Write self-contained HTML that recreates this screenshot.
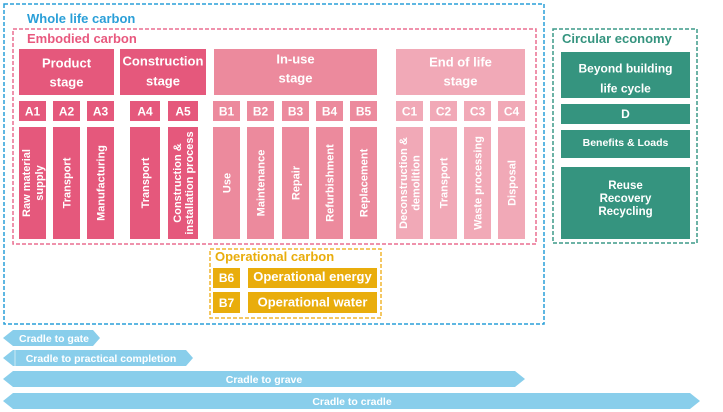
<!DOCTYPE html>
<html><head><meta charset="utf-8"><style>
html,body{margin:0;padding:0;background:#fff;}
svg{display:block;}
text{font-family:"Liberation Sans",Arial,sans-serif;font-weight:bold;}
</style></head><body>
<svg width="723" height="412" viewBox="0 0 723 412" xmlns="http://www.w3.org/2000/svg">
<!-- dashed containers -->
<rect x="4" y="4" width="540" height="320" fill="none" stroke="#2a9fd8" stroke-width="1.5" stroke-dasharray="4 2"/>
<rect x="13" y="29" width="523" height="215" fill="none" stroke="#ea6f90" stroke-width="1.5" stroke-dasharray="4 2"/>
<rect x="553" y="29" width="144" height="214" fill="none" stroke="#3d9a88" stroke-width="1.5" stroke-dasharray="4 2"/>
<rect x="210" y="249" width="171" height="69" fill="#fff" stroke="#f0b630" stroke-width="1.5" stroke-dasharray="4 2"/>

<text x="27" y="23" font-size="13" fill="#2a9fd8">Whole life carbon</text>
<text x="27" y="43" font-size="13" fill="#e8587e">Embodied carbon</text>
<text x="562" y="43" font-size="13" fill="#35947f">Circular economy</text>
<text x="215" y="261" font-size="13" fill="#e9ad0c">Operational carbon</text>

<!-- stage headers -->
<g fill="#e5587c">
<rect x="19" y="49" width="95" height="46"/>
<rect x="120" y="49" width="86" height="46"/>
</g>
<rect x="214" y="49" width="163" height="46" fill="#ec8a9d"/>
<rect x="396" y="49" width="129" height="46" fill="#f1a9b7"/>
<g fill="#fff" font-size="13" text-anchor="middle">
<text x="66.5" y="67.5">Product</text>
<text x="66.5" y="86.5">stage</text>
<text x="163" y="65.5">Construction</text>
<text x="163" y="85.5">stage</text>
<text x="295.5" y="63.5">In-use</text>
<text x="295.5" y="82.5">stage</text>
<text x="460.5" y="66.5">End of life</text>
<text x="460.5" y="85.5">stage</text>
</g>

<!-- code boxes -->
<g fill="#e5587c">
<rect x="19" y="101" width="27" height="20"/>
<rect x="53" y="101" width="27" height="20"/>
<rect x="87" y="101" width="27" height="20"/>
<rect x="130" y="101" width="30" height="20"/>
<rect x="168" y="101" width="30" height="20"/>
<rect x="19" y="127" width="27" height="112"/>
<rect x="53" y="127" width="27" height="112"/>
<rect x="87" y="127" width="27" height="112"/>
<rect x="130" y="127" width="30" height="112"/>
<rect x="168" y="127" width="30" height="112"/>
</g>
<g fill="#ec8a9d">
<rect x="213" y="101" width="27" height="20"/>
<rect x="247" y="101" width="27" height="20"/>
<rect x="282" y="101" width="27" height="20"/>
<rect x="316" y="101" width="27" height="20"/>
<rect x="350" y="101" width="27" height="20"/>
<rect x="213" y="127" width="27" height="112"/>
<rect x="247" y="127" width="27" height="112"/>
<rect x="282" y="127" width="27" height="112"/>
<rect x="316" y="127" width="27" height="112"/>
<rect x="350" y="127" width="27" height="112"/>
</g>
<g fill="#f1a9b7">
<rect x="396" y="101" width="27" height="20"/>
<rect x="430" y="101" width="27" height="20"/>
<rect x="464" y="101" width="27" height="20"/>
<rect x="498" y="101" width="27" height="20"/>
<rect x="396" y="127" width="27" height="112"/>
<rect x="430" y="127" width="27" height="112"/>
<rect x="464" y="127" width="27" height="112"/>
<rect x="498" y="127" width="27" height="112"/>
</g>
<g fill="#fff" font-size="12" text-anchor="middle">
<text x="32.5" y="115.5">A1</text>
<text x="66.5" y="115.5">A2</text>
<text x="100.5" y="115.5">A3</text>
<text x="145" y="115.5">A4</text>
<text x="183" y="115.5">A5</text>
<text x="226.5" y="115.5">B1</text>
<text x="260.5" y="115.5">B2</text>
<text x="295.5" y="115.5">B3</text>
<text x="329.5" y="115.5">B4</text>
<text x="363.5" y="115.5">B5</text>
<text x="409.5" y="115.5">C1</text>
<text x="443.5" y="115.5">C2</text>
<text x="477.5" y="115.5">C3</text>
<text x="511.5" y="115.5">C4</text>
</g>

<!-- rotated column labels -->
<g fill="#fff" font-size="11" text-anchor="middle">
<text transform="translate(32.5,183) rotate(-90)"><tspan x="0" y="-2.5">Raw material</tspan><tspan x="0" y="10.5">supply</tspan></text>
<text transform="translate(66.5,183) rotate(-90)" y="4">Transport</text>
<text transform="translate(100.5,183) rotate(-90)" y="4">Manufacturing</text>
<text transform="translate(145,183) rotate(-90)" y="4">Transport</text>
<text transform="translate(183,183) rotate(-90)"><tspan x="0" y="-2">Construction &amp;</tspan><tspan x="0" y="10">installation process</tspan></text>
<text transform="translate(226.5,183) rotate(-90)" y="4">Use</text>
<text transform="translate(260.5,183) rotate(-90)" y="4">Maintenance</text>
<text transform="translate(295.5,183) rotate(-90)" y="4">Repair</text>
<text transform="translate(329.5,183) rotate(-90)" y="4">Refurbishment</text>
<text transform="translate(363.5,183) rotate(-90)" y="4">Replacement</text>
<text transform="translate(409.5,183) rotate(-90)"><tspan x="0" y="-2.5">Deconstruction &amp;</tspan><tspan x="0" y="10">demolition</tspan></text>
<text transform="translate(443.5,183) rotate(-90)" y="4">Transport</text>
<text transform="translate(477.5,183) rotate(-90)" y="4">Waste processing</text>
<text transform="translate(511.5,183) rotate(-90)" y="4">Disposal</text>
</g>

<!-- operational -->
<g fill="#e9ad0c">
<rect x="213" y="268" width="27" height="20"/>
<rect x="248" y="268" width="129" height="20"/>
<rect x="213" y="292" width="27" height="21"/>
<rect x="248" y="292" width="129" height="21"/>
</g>
<g fill="#fff" text-anchor="middle">
<text x="226.5" y="282" font-size="12">B6</text>
<text x="226.5" y="307" font-size="12">B7</text>
<text x="312.5" y="281" font-size="13">Operational energy</text>
<text x="312.5" y="306.5" font-size="13">Operational water</text>
</g>

<!-- circular economy -->
<g fill="#35947f">
<rect x="561" y="52" width="129" height="46"/>
<rect x="561" y="104" width="129" height="20"/>
<rect x="561" y="130" width="129" height="28"/>
<rect x="561" y="167" width="129" height="72"/>
</g>
<g fill="#fff" text-anchor="middle">
<text x="625.5" y="72.5" font-size="12">Beyond building</text>
<text x="625.5" y="92.5" font-size="12">life cycle</text>
<text x="625.5" y="118" font-size="12">D</text>
<text x="625.5" y="146" font-size="10.5">Benefits &amp; Loads</text>
<text x="625.5" y="189" font-size="11.5">Reuse</text>
<text x="625.5" y="202" font-size="11.5">Recovery</text>
<text x="625.5" y="215" font-size="11.5">Recycling</text>
</g>

<!-- scope arrows -->
<g fill="#89ceeb">
<polygon points="3,338 13,330 93,330 100,338 93,346 13,346"/>
<polygon points="3,358 13,350 186,350 193,358 186,366 13,366"/>
<polygon points="3,379 13,371 515,371 525,379 515,387 13,387"/>
<polygon points="3,401 13,393 690,393 700,401 690,409 13,409"/>
</g>
<line x1="15" y1="350" x2="15" y2="366" stroke="#fff" stroke-width="0.8" opacity="0.7"/>
<g fill="#fff" font-size="10.5" text-anchor="middle">
<text x="54" y="342">Cradle to gate</text>
<text x="101" y="362">Cradle to practical completion</text>
<text x="264" y="383">Cradle to grave</text>
<text x="352" y="405">Cradle to cradle</text>
</g>
</svg>
</body></html>
